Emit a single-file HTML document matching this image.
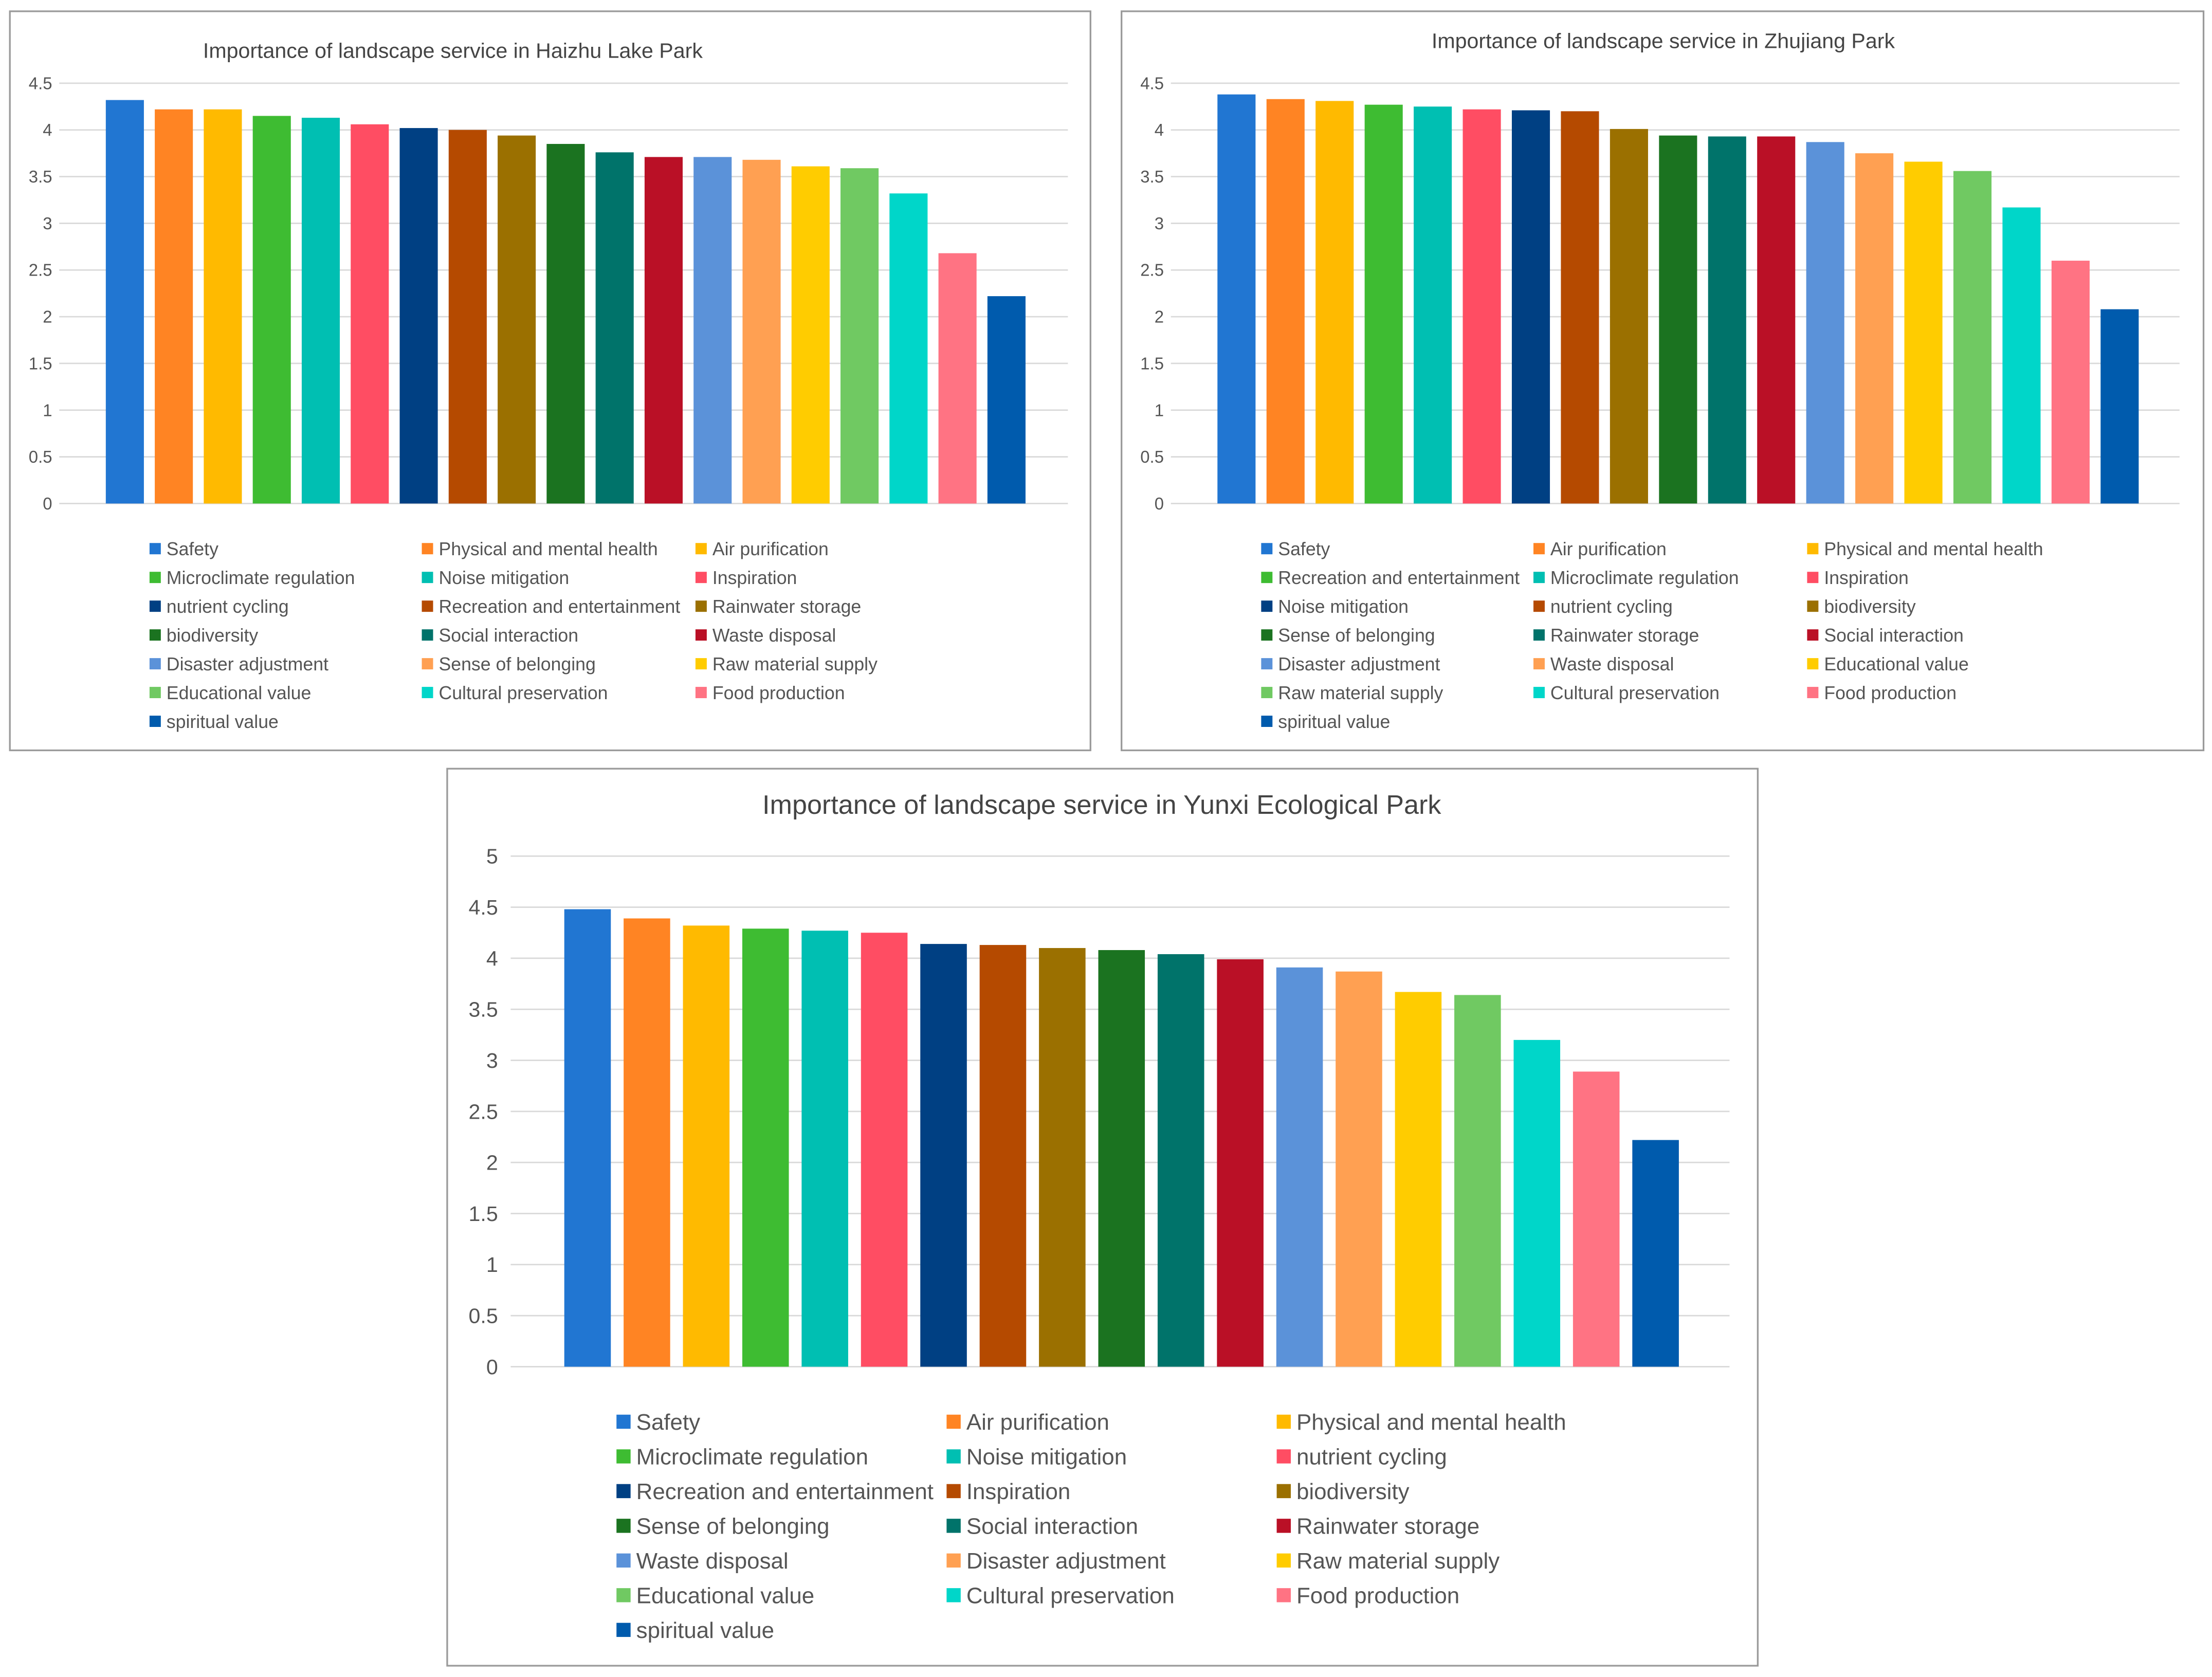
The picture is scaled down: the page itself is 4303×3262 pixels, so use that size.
<!DOCTYPE html>
<html><head><meta charset="utf-8">
<style>
html,body{margin:0;padding:0;background:#fff;}
svg{display:block;}
text{font-family:"Liberation Sans",sans-serif;}
</style></head>
<body>
<svg id="root" width="4303" height="3262" viewBox="0 0 1568 1189" preserveAspectRatio="none" xmlns="http://www.w3.org/2000/svg">
<rect x="0" y="0" width="1568" height="1189" fill="#fff"/>
</svg>
<script>
const colors = ["#2176d2","#ff8423","#ffba00","#3ebc32","#00bfb2","#ff4d63","#004083","#b54a00","#9b7000","#1b7320","#00736a","#ba1026","#5b92d9","#ffa052","#ffcc00","#70c962","#00d6c9","#ff7383","#005bad"];
const haizhuLabels = ["Safety","Physical and mental health","Air purification","Microclimate regulation","Noise mitigation","Inspiration","nutrient cycling","Recreation and entertainment","Rainwater storage","biodiversity","Social interaction","Waste disposal","Disaster adjustment","Sense of belonging","Raw material supply","Educational value","Cultural preservation","Food production","spiritual value"];
const haizhuValues = [4.32,4.22,4.22,4.15,4.13,4.06,4.02,4.00,3.94,3.85,3.76,3.71,3.71,3.68,3.61,3.59,3.32,2.68,2.22];
const zhujiangLabels = ["Safety","Air purification","Physical and mental health","Recreation and entertainment","Microclimate regulation","Inspiration","Noise mitigation","nutrient cycling","biodiversity","Sense of belonging","Rainwater storage","Social interaction","Disaster adjustment","Waste disposal","Educational value","Raw material supply","Cultural preservation","Food production","spiritual value"];
const zhujiangValues = [4.38,4.33,4.31,4.27,4.25,4.22,4.21,4.20,4.01,3.94,3.93,3.93,3.87,3.75,3.66,3.56,3.17,2.60,2.08];
const yunxiLabels = ["Safety","Air purification","Physical and mental health","Microclimate regulation","Noise mitigation","nutrient cycling","Recreation and entertainment","Inspiration","biodiversity","Sense of belonging","Social interaction","Rainwater storage","Waste disposal","Disaster adjustment","Raw material supply","Educational value","Cultural preservation","Food production","spiritual value"];
const yunxiValues = [4.48,4.39,4.32,4.29,4.27,4.25,4.14,4.13,4.10,4.08,4.04,3.99,3.91,3.87,3.67,3.64,3.20,2.89,2.22];
const ticks45 = ["0","0.5","1","1.5","2","2.5","3","3.5","4","4.5"];
const ticks5 = ["0","0.5","1","1.5","2","2.5","3","3.5","4","4.5","5"];

const NS = "http://www.w3.org/2000/svg";
const root = document.getElementById('root');
function mk(tag, attrs, parent){const e=document.createElementNS(NS,tag);for(const k in attrs)e.setAttribute(k,attrs[k]);parent.appendChild(e);return e;}

function chart(cfg){
  const g = mk('g',{},root);
  
  
  const box = mk('rect',{x:cfg.box[0],y:cfg.box[1],width:cfg.box[2],height:cfg.box[3],fill:'#fff',stroke:'#9a9a9a','stroke-width':1.2},g);
  
  
  const t = mk('text',{x:cfg.titleX,y:cfg.titleY,'font-size':cfg.titleSize,fill:'#444','text-anchor':'middle'},g);
  t.textContent = cfg.title;
  
  
  const maxV = parseFloat(cfg.ticks[cfg.ticks.length-1]);
  const yS = v => cfg.y0 - (v/maxV)*(cfg.y0-cfg.yTop);
  const xS = i => cfg.bx0 + i*cfg.pitch;
  cfg.ticks.forEach(tk=>{
    const v=parseFloat(tk), y=yS(v);
    const l=mk('line',{x1:cfg.gx0,x2:cfg.gx1,y1:y,y2:y,stroke:'#d9d9d9','stroke-width':1},g);
    
    
    const tt=mk('text',{x:cfg.tickX,y:y+cfg.tickSize*0.35,'font-size':cfg.tickSize,fill:'#555','text-anchor':'end'},g);
    tt.textContent=tk;
    
    
  });
  cfg.values.forEach((v,i)=>{
    const r=mk('rect',{x:xS(i),y:yS(v),width:cfg.bw,height:cfg.y0-yS(v),fill:colors[i]},g);
    
    
  });
  cfg.labels.forEach((lab,i)=>{
    const col=i%3,row=Math.floor(i/3);
    const x=cfg.legX[col], y=cfg.legY+row*cfg.legStep;
    const s=mk('rect',{x:x,y:y-cfg.sq/2,width:cfg.sq,height:cfg.sq,fill:colors[i]},g);
    
    
    const tx=mk('text',{x:x+cfg.sq+4,y:y+cfg.legSize*0.36,'font-size':cfg.legSize,fill:'#555'},g);
    tx.textContent=lab;
    
    
  });
}

chart({name:'haizhu-chart',box:[7,8,766,524],title:'Importance of landscape service in Haizhu Lake Park',titleX:321,titleY:41,titleSize:15,
  ticks:ticks45,y0:357,yTop:59,gx0:42,gx1:757,tickX:37,tickSize:12,bx0:75,pitch:34.72,bw:27,values:haizhuValues,labels:haizhuLabels,
  legX:[106,299,493],legY:389,legStep:20.4,sq:8,legSize:13});
chart({name:'zhujiang-chart',box:[795,8,767,524],title:'Importance of landscape service in Zhujiang Park',titleX:1179,titleY:34,titleSize:15,
  ticks:ticks45,y0:357,yTop:59,gx0:830,gx1:1545,tickX:825,tickSize:12,bx0:863,pitch:34.78,bw:27,values:zhujiangValues,labels:zhujiangLabels,
  legX:[894,1087,1281],legY:389,legStep:20.4,sq:8,legSize:13});
chart({name:'yunxi-chart',box:[317,545,929,636],title:'Importance of landscape service in Yunxi Ecological Park',titleX:781,titleY:577,titleSize:19,
  ticks:ticks5,y0:969,yTop:607,gx0:362,gx1:1226,tickX:353,tickSize:15,bx0:400,pitch:42.06,bw:33,values:yunxiValues,labels:yunxiLabels,
  legX:[437,671,905],legY:1008,legStep:24.6,sq:10,legSize:16});
</script>
</body></html>
